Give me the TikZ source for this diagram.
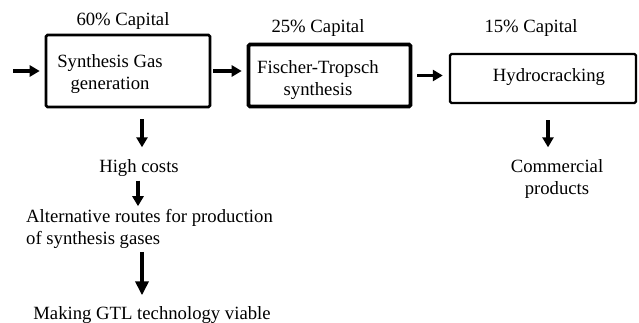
\documentclass[tikz,border=0pt]{standalone}
\usepackage{fontspec}
\setmainfont{Liberation Serif}
\usetikzlibrary{arrows.meta}

\begin{document}
\begin{tikzpicture}[x=1pt, y=-1pt,
    every node/.style={font=\fontsize{18.7}{22}\selectfont, inner sep=0pt},
    stage/.style={draw, rounded corners=1.5pt},
    arr/.style={-{Triangle[length=10pt,width=11pt]}, line width=3.4pt},
    bigarr/.style={-{Triangle[length=14pt,width=13pt]}, line width=4pt}]
\useasboundingbox (0,0) rectangle (639,322);

% process stages
\node[stage, line width=2.6pt, minimum width=164pt, minimum height=72pt] (syn) at (128,71) {};
\node[stage, line width=3.6pt, minimum width=162pt, minimum height=62pt] (ft) at (329.5,75.5) {};
\node[stage, line width=2.4pt, minimum width=186pt, minimum height=49pt] (hc) at (543,78.5) {};
\node[align=center] (syntxt) at (110,74) {Synthesis Gas\\generation};
\node[align=center] (fttxt) at (318,80) {Fischer-Tropsch\\synthesis};
\node (hctxt) at (549,77) {Hydrocracking};

% share of capital
\node (cap1) at (123,21) {60\% Capital};
\node (cap2) at (318,28) {25\% Capital};
\node (cap3) at (531,28) {15\% Capital};

% consequences
\node (cost) at (139,168) {High costs};
\node[anchor=west, align=left] (alt) at (26,229) {Alternative routes for production\\of synthesis gases};
\node (gtl) at (152,315) {Making GTL technology viable};
\node[align=center] (prod) at (557,179) {Commercial\\products};

\coordinate (feed) at (13,71);
\draw[arr, shorten >=5pt] (feed) -- (syn.west);
\draw[arr, shorten <=2pt, shorten >=5pt] (syn.east) -- (syn.east -| ft.west);
\draw[arr, shorten <=5pt, shorten >=6pt] (ft.east) -- (ft.east -| hc.west);
\draw[arr, shorten <=11pt, shorten >=12pt] ([xshift=3pt]cost.north |- syn.south) -- ([xshift=3pt]cost.north);
\draw[arr, shorten <=4pt, shorten >=3pt] ([xshift=-1pt]cost.south) -- ([xshift=-1pt]cost.south |- alt.north);
\draw[bigarr, shorten <=3pt, shorten >=11pt] ([xshift=-10pt]gtl.north |- alt.south) -- ([xshift=-10pt]gtl.north);
\draw[arr, shorten <=16pt, shorten >=12pt] ([xshift=-9pt]prod.north |- hc.south) -- ([xshift=-9pt]prod.north);
\end{tikzpicture}
\end{document}
